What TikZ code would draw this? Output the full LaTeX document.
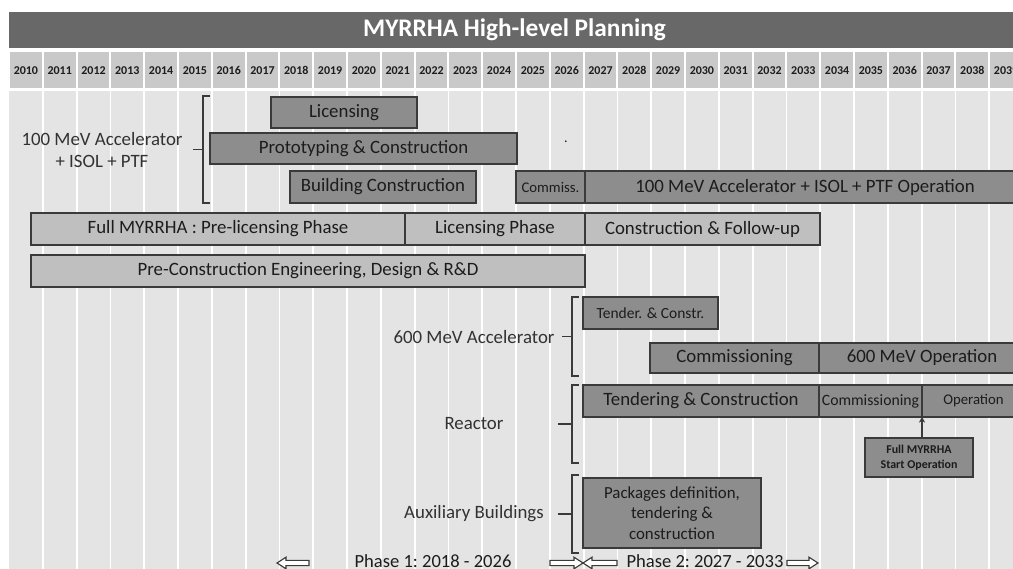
\documentclass[tikz,border=0pt]{standalone}
\usepackage{fontspec}
\setmainfont{Carlito}
\usetikzlibrary{arrows.meta}
\definecolor{TtlBar}   {RGB}{104,104,104}
\definecolor{YrCell}   {RGB}{201,201,201}
\definecolor{GridBg}   {RGB}{228,228,228}
\definecolor{DarkFill} {RGB}{141,141,141}
\definecolor{LightFill}{RGB}{191,191,191}
\definecolor{EdgeCol}  {RGB}{58,58,58}
\definecolor{TxtCol}   {RGB}{28,28,28}
\definecolor{LblCol}   {RGB}{50,50,50}
\tikzset{
  bx_dark/.style={rectangle,draw=EdgeCol,fill=DarkFill,line width=0.75pt,inner sep=0pt,outer sep=0pt,text=TxtCol,align=center,font=\fontsize{13.4}{16}\selectfont},
  bx_light/.style={bx_dark,fill=LightFill},
  bx_year/.style={rectangle,fill=YrCell,inner sep=0pt,minimum width={31.8*0.025cm},minimum height={36*0.025cm},text height=6pt,text depth=0pt,text=TxtCol,font=\fontsize{8.5}{10}\selectfont\bfseries},
  lbl_grp/.style={text=LblCol,align=center,font=\fontsize{13.4}{15.5}\selectfont},
  lbl_ph/.style={text=TxtCol,anchor=base,font=\fontsize{13.2}{16}\selectfont\frenchspacing},
  brk/.style={draw=EdgeCol,line width=0.9pt},
  arr/.style={-{Stealth[length=4pt,width=4.5pt]},line width=1.5pt,draw=EdgeCol},
  phs/.style={draw=EdgeCol,fill=white,line width=0.8pt,line join=miter},
}
% box from (x1,y1) to (x2,y2) in pixel units
\newcommand{\gbox}[7]{%
  \node[#1,minimum width={(#5-#3)*0.025cm},minimum height={(#6-#4)*0.025cm}] (#2) at ({(#3+#5)/2},{(#4+#6)/2}) {#7};}
% group bracket: x, top, bottom, tick length
\newcommand{\grpbrk}[4]{%
  \draw[brk] ({#1+7},#2) -- (#1,#2) -- (#1,#3) -- ({#1+7},#3);
  \draw[brk] ({#1-#4},{(#2+#3)/2}) -- (#1,{(#2+#3)/2});}
% hollow phase arrow: tail x, tip x, y
\newcommand{\phasearr}[3]{%
  \pgfmathsetmacro{\nk}{#2-9*sign(#2-#1)}
  \draw[phs] (#1,{#3-2.6}) -- (\nk,{#3-2.6}) -- (\nk,{#3-5.8}) -- (#2,#3) -- (\nk,{#3+5.8}) -- (\nk,{#3+2.6}) -- (#1,{#3+2.6}) -- cycle;}

\begin{document}
\begin{tikzpicture}[x=0.025cm,y=-0.025cm]
\clip (0,0) rectangle (1013,569);
\fill[white] (0,0) rectangle (1013,569);
% title + years
\node[fill=TtlBar,inner sep=0pt,minimum width={1011*0.025cm},minimum height={36*0.025cm},text=white,font=\fontsize{18}{22}\selectfont\bfseries] (ttl) at (514.5,30) {MYRRHA High-level Planning};
\foreach \i in {0,...,29}{
  \pgfmathtruncatemacro{\yr}{2010+\i}
  \node[bx_year] (y\yr) at ({9+(\i+0.5)*33.8},70) {\yr};
}
\fill[GridBg] (9,91) rectangle (1013,569);
\foreach \i in {1,...,29}{\draw[white,line width=0.045cm] ({9+\i*33.8},91) -- ({9+\i*33.8},569);}
% 100 MeV block
\gbox{bx_dark}{lic}{271}{97}{417}{128}{Licensing}
\gbox{bx_dark}{proto}{210}{133}{517}{164}{Prototyping \& Construction}
\gbox{bx_dark}{bldg}{290}{171}{476}{203}{Building Construction}
\gbox{bx_dark,font=\fontsize{10.5}{12}\selectfont}{comm}{516}{171}{585}{203}{Commiss.}
\gbox{bx_dark}{op100}{585}{171}{1025}{203}{100 MeV Accelerator + ISOL + PTF Operation}
\node[font=\fontsize{10}{12}\selectfont,text=TxtCol] (dot) at (566,142) {.};
% full MYRRHA
\gbox{bx_light}{prelic}{31}{213}{405}{245}{Full MYRRHA : Pre-licensing Phase}
\gbox{bx_light}{licph}{405}{213}{585}{245}{Licensing Phase}
\gbox{bx_light}{cfu}{585}{213}{820}{245}{Construction \& Follow-up}
\gbox{bx_light}{pce}{31}{255}{585}{287}{Pre-Construction Engineering, Design \& R\&D}
% 600 MeV
\gbox{bx_dark,font=\fontsize{11}{13}\selectfont}{tc600}{583}{297}{718}{329}{Tender. \& Constr.}
\gbox{bx_dark}{com600}{650}{343}{819}{373}{Commissioning}
\gbox{bx_dark}{op600}{819}{343}{1025}{373}{600 MeV Operation}
% reactor
\gbox{bx_dark}{tcr}{583}{385}{819}{417}{Tendering \& Construction}
\gbox{bx_dark,font=\fontsize{11.2}{13}\selectfont}{comr}{819}{385}{922}{417}{Commissioning}
\gbox{bx_dark,font=\fontsize{10.5}{12}\selectfont}{opr}{922}{385}{1025}{417}{Operation}
\gbox{bx_dark,font=\fontsize{8.5}{11}\selectfont\bfseries}{sop}{865}{438}{973}{477}{Full MYRRHA\\Start Operation}
% auxiliary
\gbox{bx_dark,font=\fontsize{12}{14.5}\selectfont}{pkg}{583}{478}{761}{548}{Packages definition,\\tendering \&\\construction}
% brackets + labels
\grpbrk{203}{96}{203}{10}
\grpbrk{572}{297}{376}{10}
\grpbrk{572}{385}{463}{14}
\grpbrk{572}{475}{553}{14}
\node[lbl_grp] (g100) at (102,150) {100 MeV Accelerator\\+ ISOL + PTF};
\node[lbl_grp] (g600) at (474,337) {600 MeV Accelerator};
\node[lbl_grp] (greac) at (474,424) {Reactor};
\node[lbl_grp] (gaux) at (474,514) {Auxiliary Buildings};
% start of operation
\draw[arr] (sop.north -| opr.south west) -- (opr.south west);
% phases
\phasearr{309}{277}{563}
\phasearr{550}{583}{563}
\phasearr{617}{583}{563}
\phasearr{787}{818}{563}
\node[lbl_ph] (ph1) at (433,567.5) {Phase 1: 2018 - 2026};
\node[lbl_ph] (ph2) at (705,567.5) {Phase 2: 2027 - 2033};
\end{tikzpicture}
\end{document}
